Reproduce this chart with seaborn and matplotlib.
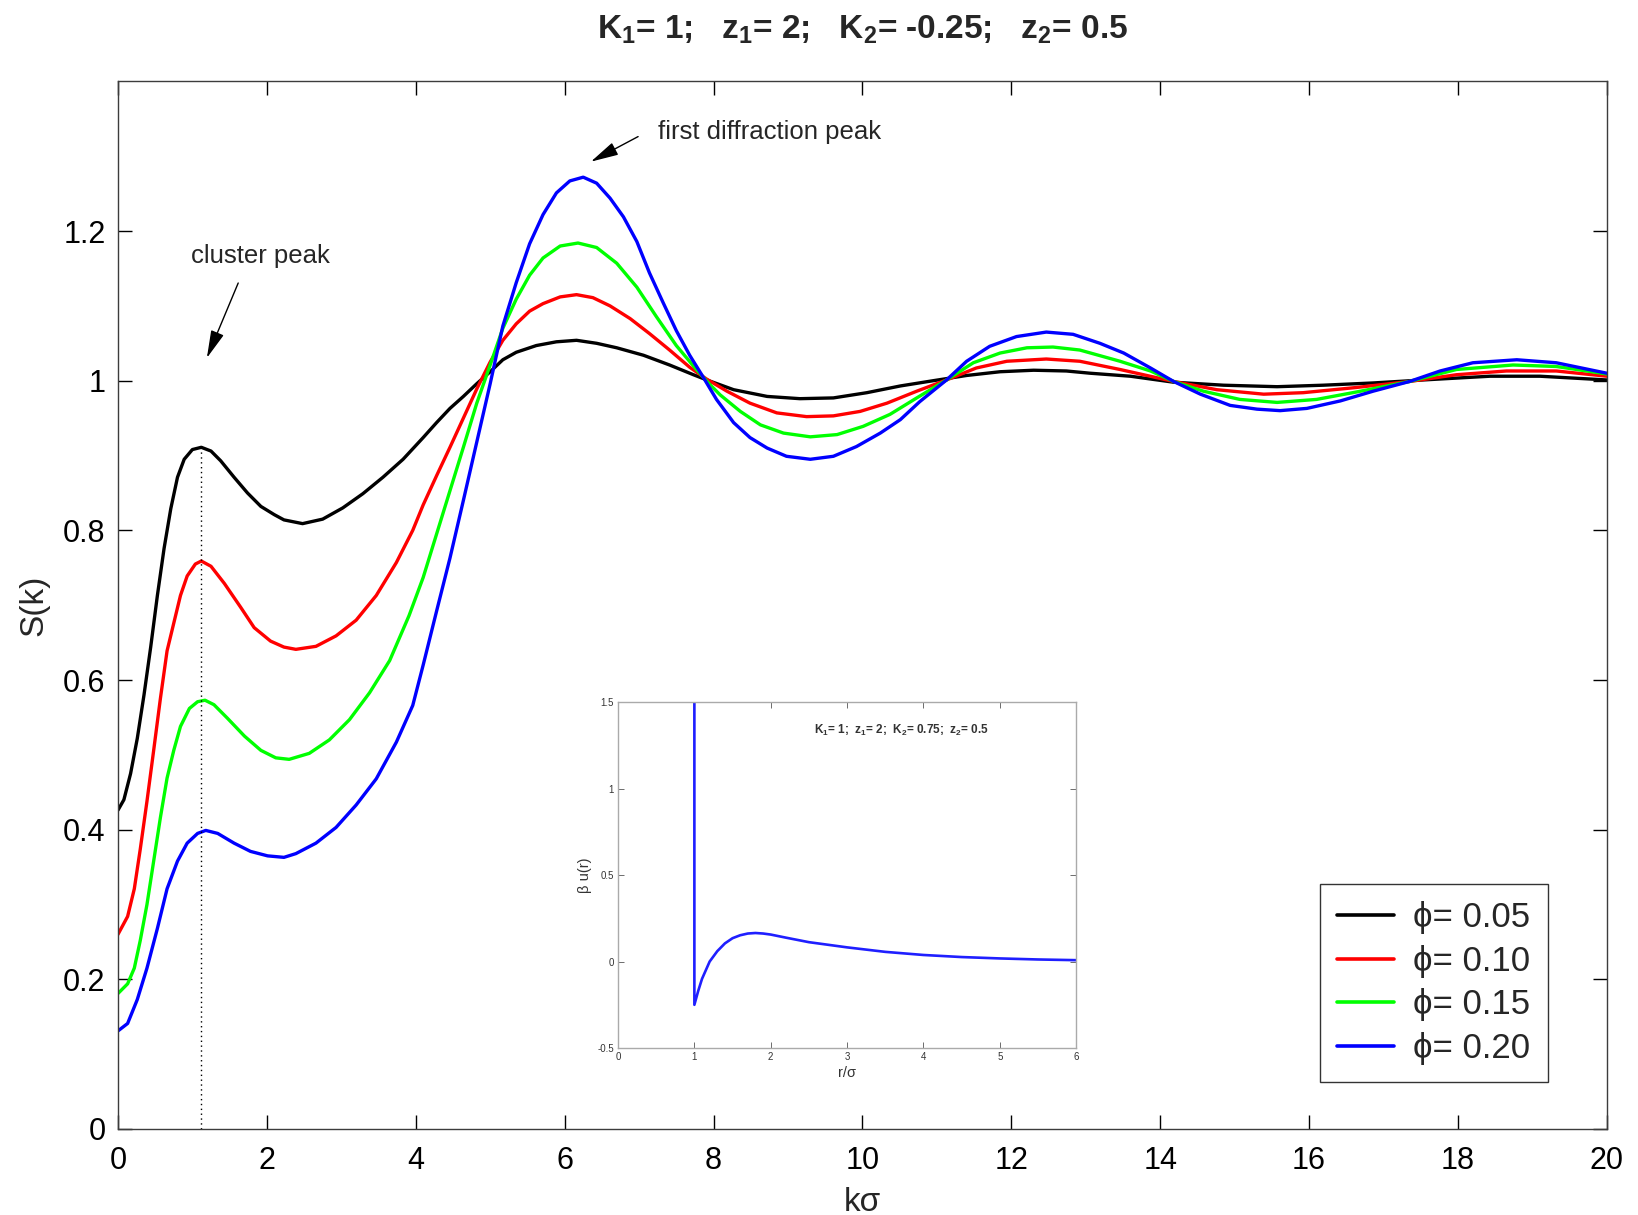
import matplotlib
matplotlib.use("Agg")
import matplotlib.pyplot as plt
import seaborn as sns
import numpy as np
import pandas as pd

# ---------------- data ----------------
k_black = [0.00, 0.08, 0.17, 0.26, 0.35, 0.44, 0.53, 0.62, 0.71, 0.80, 0.89, 1.00, 1.12, 1.25, 1.38,
           1.56, 1.74, 1.92, 2.10, 2.23, 2.48, 2.75, 3.02, 3.29, 3.56, 3.83, 4.10, 4.28, 4.46, 4.64,
           4.82, 5.00, 5.17, 5.35, 5.62, 5.89, 6.16, 6.43, 6.70, 7.06, 7.41, 7.73, 7.91, 8.27, 8.72,
           9.16, 9.61, 10.06, 10.51, 10.95, 11.40, 11.85, 12.30, 12.74, 13.06, 13.60, 14.18, 14.85,
           15.57, 16.19, 16.86, 17.53, 18.43, 19.10, 20.00]
S_black = [0.426, 0.440, 0.475, 0.522, 0.580, 0.644, 0.713, 0.776, 0.829, 0.871, 0.895, 0.908, 0.911,
           0.906, 0.893, 0.871, 0.850, 0.832, 0.821, 0.814, 0.809, 0.815, 0.830, 0.849, 0.871, 0.895,
           0.924, 0.944, 0.963, 0.979, 0.996, 1.012, 1.028, 1.038, 1.047, 1.052, 1.054, 1.050, 1.044,
           1.034, 1.021, 1.008, 1.001, 0.988, 0.979, 0.976, 0.977, 0.984, 0.993, 1.000, 1.007, 1.012,
           1.014, 1.013, 1.010, 1.006, 0.998, 0.994, 0.992, 0.994, 0.997, 1.001, 1.006, 1.006, 1.001]

k_red = [0.00, 0.13, 0.22, 0.30, 0.39, 0.48, 0.57, 0.66, 0.75, 0.84, 0.93, 1.04, 1.12, 1.25, 1.43,
         1.65, 1.83, 2.05, 2.23, 2.39, 2.66, 2.93, 3.20, 3.47, 3.74, 3.96, 4.10, 4.28, 4.46, 4.64,
         4.82, 5.00, 5.17, 5.35, 5.53, 5.71, 5.94, 6.16, 6.38, 6.61, 6.88, 7.14, 7.41, 7.68, 7.91,
         8.18, 8.49, 8.85, 9.25, 9.61, 9.97, 10.33, 10.73, 11.13, 11.53, 11.94, 12.47, 12.92, 13.46,
         14.18, 14.76, 15.39, 15.92, 16.64, 17.35, 17.98, 18.65, 19.32, 20.00]
S_red = [0.260, 0.284, 0.321, 0.374, 0.438, 0.506, 0.575, 0.639, 0.676, 0.713, 0.739, 0.755, 0.759,
         0.752, 0.729, 0.697, 0.670, 0.652, 0.644, 0.641, 0.645, 0.659, 0.680, 0.713, 0.757, 0.800,
         0.834, 0.873, 0.911, 0.950, 0.989, 1.025, 1.054, 1.076, 1.093, 1.103, 1.112, 1.115, 1.111,
         1.100, 1.083, 1.063, 1.041, 1.018, 1.002, 0.986, 0.970, 0.957, 0.952, 0.953, 0.959, 0.970,
         0.986, 1.001, 1.017, 1.026, 1.029, 1.026, 1.015, 0.999, 0.988, 0.982, 0.984, 0.991, 0.999,
         1.008, 1.013, 1.013, 1.006]

k_green = [0.00, 0.13, 0.22, 0.30, 0.39, 0.48, 0.57, 0.66, 0.75, 0.84, 0.96, 1.07, 1.17, 1.29, 1.47,
           1.70, 1.92, 2.12, 2.30, 2.57, 2.84, 3.11, 3.38, 3.65, 3.91, 4.10, 4.28, 4.46, 4.64, 4.82,
           5.00, 5.17, 5.35, 5.53, 5.71, 5.94, 6.18, 6.43, 6.70, 6.97, 7.23, 7.50, 7.77, 7.95, 8.09,
           8.36, 8.63, 8.94, 9.30, 9.66, 10.01, 10.37, 10.73, 11.13, 11.49, 11.85, 12.21, 12.56,
           12.92, 13.46, 13.87, 14.18, 14.58, 15.07, 15.57, 16.10, 16.64, 17.35, 17.98, 18.74, 19.32,
           20.00]
S_green = [0.181, 0.194, 0.215, 0.252, 0.300, 0.358, 0.416, 0.469, 0.506, 0.538, 0.562, 0.571, 0.573,
           0.567, 0.549, 0.525, 0.506, 0.496, 0.494, 0.502, 0.520, 0.547, 0.583, 0.626, 0.686, 0.737,
           0.795, 0.853, 0.911, 0.970, 1.021, 1.070, 1.109, 1.141, 1.164, 1.180, 1.184, 1.178, 1.157,
           1.125, 1.086, 1.047, 1.015, 0.995, 0.981, 0.959, 0.941, 0.930, 0.925, 0.928, 0.939, 0.955,
           0.977, 1.001, 1.024, 1.037, 1.044, 1.045, 1.041, 1.026, 1.013, 0.999, 0.986, 0.975, 0.971,
           0.975, 0.985, 0.999, 1.015, 1.021, 1.019, 1.009]

k_blue = [0.00, 0.13, 0.26, 0.39, 0.53, 0.66, 0.80, 0.93, 1.07, 1.18, 1.34, 1.56, 1.78, 2.01, 2.23,
          2.39, 2.66, 2.93, 3.20, 3.47, 3.74, 3.96, 4.10, 4.28, 4.46, 4.64, 4.82, 5.00, 5.17, 5.35,
          5.53, 5.71, 5.89, 6.07, 6.25, 6.43, 6.61, 6.79, 6.97, 7.14, 7.32, 7.50, 7.68, 7.86, 8.04,
          8.27, 8.49, 8.72, 8.98, 9.30, 9.61, 9.92, 10.24, 10.51, 10.77, 11.13, 11.40, 11.71, 12.07,
          12.47, 12.83, 13.19, 13.51, 13.87, 14.18, 14.54, 14.94, 15.30, 15.61, 15.97, 16.42, 16.86,
          17.35, 17.76, 18.20, 18.79, 19.32, 20.00]
S_blue = [0.131, 0.141, 0.173, 0.215, 0.268, 0.321, 0.358, 0.382, 0.395, 0.399, 0.395, 0.382, 0.371,
          0.365, 0.363, 0.368, 0.382, 0.403, 0.433, 0.468, 0.517, 0.566, 0.620, 0.692, 0.763, 0.840,
          0.918, 0.996, 1.073, 1.131, 1.183, 1.222, 1.251, 1.267, 1.272, 1.264, 1.244, 1.219, 1.186,
          1.144, 1.105, 1.067, 1.034, 1.005, 0.975, 0.944, 0.924, 0.910, 0.899, 0.895, 0.899, 0.912,
          0.930, 0.948, 0.972, 1.001, 1.026, 1.046, 1.059, 1.065, 1.062, 1.050, 1.037, 1.017, 0.999,
          0.982, 0.967, 0.962, 0.960, 0.963, 0.973, 0.986, 0.999, 1.013, 1.024, 1.028, 1.024, 1.010]

series_labels = ["ϕ= 0.05", "ϕ= 0.10", "ϕ= 0.15", "ϕ= 0.20"]
series_colors = ["#000000", "#ff0000", "#00ff00", "#0000ff"]

# inset: beta u(r)
r_inset = [1.0, 1.0, 1.05, 1.1, 1.2, 1.3, 1.4, 1.5, 1.6, 1.7, 1.8, 1.9, 2.0, 2.2, 2.5, 3.0, 3.5,
           4.0, 4.5, 5.0, 5.5, 6.0]
u_inset = [1.6, -0.25, -0.17, -0.10, 0.00, 0.06, 0.105, 0.135, 0.152, 0.162, 0.165, 0.162, 0.156,
           0.138, 0.112, 0.082, 0.056, 0.038, 0.026, 0.018, 0.012, 0.008]

x_ticks = list(range(0, 21, 2))
y_ticks = [0, 0.2, 0.4, 0.6, 0.8, 1.0, 1.2]
y_ticklabels = ["0", "0.2", "0.4", "0.6", "0.8", "1", "1.2"]
inset_xticks = [0, 1, 2, 3, 4, 5, 6]
inset_yticks = [-0.5, 0, 0.5, 1, 1.5]
inset_yticklabels = ["-0.5", "0", "0.5", "1", "1.5"]

cluster_k = 1.12
cluster_S = 0.911

# ---------------- style ----------------
sns.set_style("ticks", {"xtick.direction": "in", "ytick.direction": "in"})
plt.rcParams["font.family"] = ["Liberation Sans", "DejaVu Sans"]
plt.rcParams["mathtext.fontset"] = "custom"
plt.rcParams["mathtext.rm"] = "Liberation Sans"
plt.rcParams["mathtext.bf"] = "Liberation Sans:bold"
plt.rcParams["mathtext.it"] = "Liberation Sans"

fig = plt.figure(figsize=(16.38, 12.15), dpi=100)
ax = fig.add_axes([0.0720, 0.0708, 0.9090, 0.8622])

series = [(k_black, S_black), (k_red, S_red), (k_green, S_green), (k_blue, S_blue)]
for (kk, ss), lab, col in zip(series, series_labels, series_colors):
    df = pd.DataFrame({"k": kk, "S": ss})
    sns.lineplot(data=df, x="k", y="S", ax=ax, color=col, lw=2.4, label=lab,
                 estimator=None, sort=False, solid_joinstyle="round", solid_capstyle="round")

ax.plot([cluster_k, cluster_k], [0, cluster_S], color="black", lw=1.0, ls=(0, (1, 2.5)))

ax.set_xlim(0, 20)
ax.set_ylim(0, 1.4)
ax.set_xticks(x_ticks)
ax.set_xticklabels([str(t) for t in x_ticks])
ax.set_yticks(y_ticks)
ax.set_yticklabels(y_ticklabels)
ax.tick_params(axis="both", which="both", direction="in", length=10, width=1,
               labelsize=22, top=True, right=True, colors="black")
ax.tick_params(axis="x", pad=12)
ax.tick_params(axis="y", pad=9)
for sp in ax.spines.values():
    sp.set_visible(True)
    sp.set_color("#3c3c3c")
    sp.set_linewidth(1.0)

ax.set_xlabel("kσ", fontsize=24, labelpad=8)
ax.set_ylabel("S(k)", fontsize=24, labelpad=10)
ax.set_title(r"K$_{\mathbf{1}}$= 1;   z$_{\mathbf{1}}$= 2;   K$_{\mathbf{2}}$= -0.25;   z$_{\mathbf{2}}$= 0.5",
             fontsize=24, fontweight="bold", pad=31)

arrow_style = dict(arrowstyle="-|>,head_length=0.9,head_width=0.22", color="black", lw=1.0,
                   mutation_scale=19)
ax.annotate("", xy=(1.18, 1.027), xytext=(1.63, 1.134), arrowprops=arrow_style)
ax.text(1.92, 1.166, "cluster peak", fontsize=18.5, ha="center", va="center")
ax.annotate("", xy=(6.32, 1.291), xytext=(7.02, 1.328), arrowprops=arrow_style)
ax.text(7.26, 1.332, "first diffraction peak", fontsize=18.5, ha="left", va="center")

leg = ax.legend(loc="lower right", bbox_to_anchor=(0.9604, 0.0448), borderaxespad=0,
                fontsize=25, handlelength=1.65, handletextpad=0.55, labelspacing=0.3,
                fancybox=False, frameon=True, borderpad=0.5)
leg.get_frame().set_edgecolor("black")
leg.get_frame().set_linewidth(1.0)
for h in leg.get_lines():
    h.set_linewidth(2.6)

# ---------------- inset ----------------
axi = fig.add_axes([0.3773, 0.1374, 0.2797, 0.2848])
dfi = pd.DataFrame({"r": r_inset, "u": u_inset})
sns.lineplot(data=dfi, x="r", y="u", ax=axi, color="#1f1fff", lw=1.9, estimator=None, sort=False)
axi.set_xlim(0, 6)
axi.set_ylim(-0.5, 1.5)
axi.set_xticks(inset_xticks)
axi.set_xticklabels([str(t) for t in inset_xticks])
axi.set_yticks(inset_yticks)
axi.set_yticklabels(inset_yticklabels)
axi.tick_params(axis="both", direction="in", length=4, width=0.6, labelsize=7,
                top=True, right=True, colors="#555555", labelcolor="#333333", pad=3)
for sp in axi.spines.values():
    sp.set_visible(True)
    sp.set_color("#aaaaaa")
    sp.set_linewidth(1.0)
axi.set_xlabel("r/σ", fontsize=10.5, labelpad=3, color="#333333")
axi.set_ylabel("β u(r)", fontsize=10.5, labelpad=4, color="#333333")
axi.text(2.57, 1.337,
         r"K$_{\mathbf{1}}$= 1;  z$_{\mathbf{1}}$= 2;  K$_{\mathbf{2}}$= 0.75;  z$_{\mathbf{2}}$= 0.5",
         fontsize=8.5, fontweight="bold", ha="left", va="center", color="#333333")

fig.savefig("out.png", dpi=100)
